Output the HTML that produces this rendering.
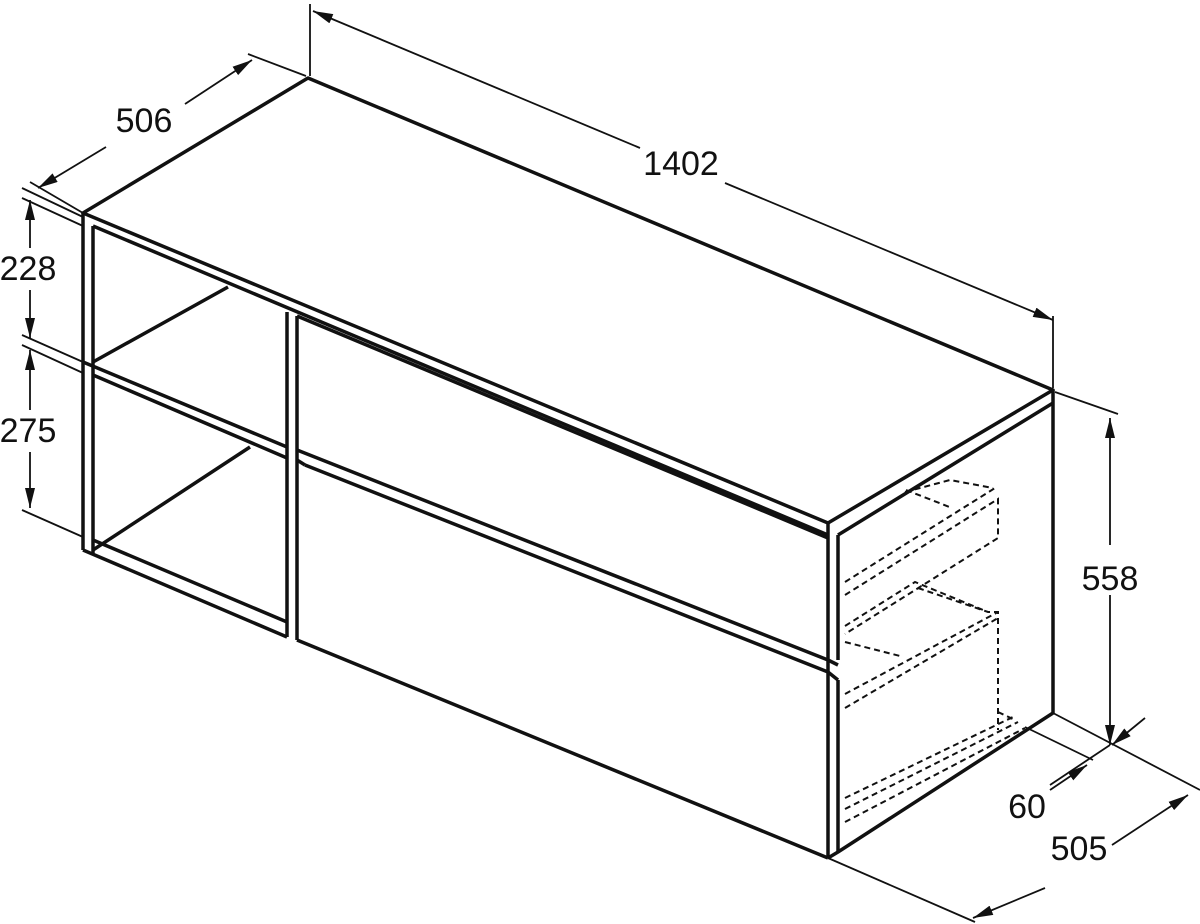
<!DOCTYPE html>
<html><head><style>html,body{margin:0;padding:0;background:#fff}svg{display:block}</style></head><body>
<svg width="1200" height="924" viewBox="0 0 1200 924" xmlns="http://www.w3.org/2000/svg">
<defs>
<marker id="a" viewBox="0 0 20 10" refX="20" refY="5" markerWidth="20" markerHeight="10" markerUnits="userSpaceOnUse" orient="auto-start-reverse"><path d="M0,0L20,5L0,10z" fill="#111"/></marker>
</defs>
<g stroke="#111" fill="none" stroke-width="3.5" stroke-linejoin="round">
<!-- top -->
<path d="M83,213 L308,78 L1053,390 L828,523 Z"/>
<path d="M93,226 L828,535"/>
<path d="M838,535 L1053,403"/>
<!-- left panel -->
<path d="M83,213 L83,550 M93,226 L93,553"/>
<path d="M83,550 L287,637 M93,540 L287,622"/>
<path d="M83,362 L287,447 M93,375 L287,458"/>
<path d="M93,362 L228,287 M93,550 L250,447"/>
<!-- divider -->
<path d="M287,312 L287,637 M297,316 L297,640"/>
<!-- drawers -->
<path d="M297,316 L828,538"/>
<path d="M297,450 L828,660 M305,465 L828,672"/>
<path d="M297,460 L305,465"/>
<path d="M297,640 L828,858"/>
<!-- front right corner -->
<path d="M828,523 L828,858 M838,535 L838,660 M838,680 L838,852"/>
<path d="M828,660 L838,665 M828,672 L838,680"/>
<!-- right side -->
<path d="M1053,390 L1053,713 L838,852 L828,858"/>
</g>
<!-- dashed hidden drawers -->
<g stroke="#111" fill="none" stroke-width="2" stroke-dasharray="6,4">
<path d="M845,582 L995,488 M845,595 L998,499 L998,538 L845,634"/>
<path d="M905,492 L950,480 L993,488 M906,490 L952,508"/>
<path d="M845,626 L915,582 L988,612 M918,588 L988,612 L998,612 L998,730"/>
<path d="M845,642 L900,656 M845,694 L998,612 M845,708 L998,618"/>
<path d="M998,712 L1015,720 M845,798 L1015,716 M845,809 L1018,722 M845,822 L1025,728"/>
</g>
<!-- dimension lines -->
<g stroke="#111" fill="none" stroke-width="1.8">
<path d="M310,4 L310,76 M1053,316 L1053,388"/>
<path d="M313,11 L640,148" marker-start="url(#a)"/>
<path d="M725,183 L1053,320" marker-end="url(#a)"/>
<path d="M30,182 L83,213 M248,54 L306,76"/>
<path d="M106,147 L38,188" marker-end="url(#a)"/>
<path d="M185,104 L252,60" marker-end="url(#a)"/>
<path d="M22,188 L83,217 M22,198 L83,226 M22,335 L83,362 M22,345 L83,373 M22,510 L83,537"/>
<path d="M30,248 L30,200" marker-end="url(#a)"/>
<path d="M30,290 L30,338" marker-end="url(#a)"/>
<path d="M30,410 L30,350" marker-end="url(#a)"/>
<path d="M30,452 L30,508" marker-end="url(#a)"/>
<path d="M1055,392 L1118,414"/>
<path d="M1110,545 L1110,418" marker-end="url(#a)"/>
<path d="M1110,595 L1110,745" marker-end="url(#a)"/>
<path d="M1053,713 L1200,790"/>
<path d="M1025,727 L1093,760"/>
<path d="M1145,718 L1112,745" marker-end="url(#a)"/>
<path d="M1110,745 L1050,785"/>
<path d="M1050,790 L1087,765" marker-end="url(#a)"/>
<path d="M828,858 L975,922"/>
<path d="M1112,845 L1188,795" marker-end="url(#a)"/>
<path d="M1045,888 L973,918" marker-end="url(#a)"/>
</g>
<g font-family="Liberation Sans, sans-serif" font-size="34" fill="#111" text-anchor="middle">
<text x="681" y="175">1402</text>
<text x="144" y="132">506</text>
<text x="28" y="280">228</text>
<text x="28" y="442">275</text>
<text x="1110" y="590">558</text>
<text x="1027" y="818">60</text>
<text x="1079" y="860">505</text>
</g>
</svg>
</body></html>
